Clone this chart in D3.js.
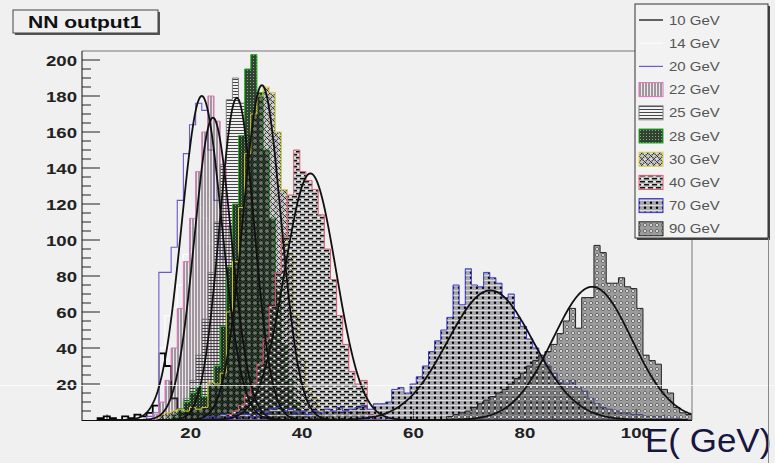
<!DOCTYPE html>
<html><head><meta charset="utf-8">
<script src="https://cdn.jsdelivr.net/npm/d3@7/dist/d3.min.js"></script>
<style>body{margin:0;background:#f0f0f0;}svg{display:block;}</style>
</head><body>
<svg id="chart" width="775" height="463"></svg>
<script>
// ---------------- data ----------------
const titleText = "NN output1";
const xAxisTitle = "E( GeV)";
const binWidth = 1.1;                 // GeV per bin, bins start at 0
const xDomain = [0.5, 110];
const yDomain = [0, 205];
const xTickValues = [20, 40, 60, 80, 100];
const yTickValues = [20, 40, 60, 80, 100, 120, 140, 160, 180, 200];
const legendLabels = ["10 GeV", "14 GeV", "20 GeV", "22 GeV", "25 GeV", "28 GeV", "30 GeV", "40 GeV", "70 GeV", "90 GeV"];

// first bin index of each histogram, then bin contents
const h10Start = 3;
const h10Counts = [1, 2, 1, 0, 2, 1, 3, 2, 4, 8, 37, 30, 12, 6, 4, 3, 2, 1];
const h14Start = 12;
const h14Counts = [3, 40, 58, 62, 75, 92, 108, 118, 112, 98, 78, 55, 34, 20, 10, 4, 1];
const h20Start = 11;
const h20Counts = [2, 4, 82, 82, 96, 122, 148, 164, 176, 172, 150, 122, 90, 58, 34, 17, 7, 3];
const h22Start = 12;
const h22Counts = [3, 10, 22, 40, 62, 88, 112, 138, 160, 180, 166, 140, 108, 76, 48, 26, 12, 5, 2];
const h25Start = 15;
const h25Counts = [3, 6, 12, 22, 36, 56, 82, 110, 142, 178, 190, 176, 158, 128, 96, 64, 38, 20, 9, 4, 1];
const h28Start = 15;
const h28Counts = [2, 5, 10, 15, 18, 13, 19, 30, 52, 85, 120, 158, 195, 203, 182, 150, 112, 72, 42, 22, 10, 4, 1];
const h30Start = 13;
const h30Counts = [3, 4, 5, 6, 5, 7, 6, 7, 21, 20, 26, 60, 88, 118, 148, 170, 180, 185, 182, 160, 128, 92, 58, 34, 17, 12, 5, 2];
const h40Start = 24;
const h40Counts = [3, 5, 8, 14, 20, 31, 45, 63, 82, 102, 125, 150, 138, 133, 128, 114, 95, 78, 58, 42, 27, 20, 22, 3, 1];
const h70Start = 20;
const h70Counts = [1, 2, 1, 3, 2, 2, 4, 3, 2, 5, 4, 6, 7, 5, 6, 4, 5, 3, 5, 4, 6, 5, 7, 5, 6, 7, 8, 6, 9, 9,
  10, 17, 18, 15, 20, 24, 30, 38, 44, 50, 57, 75, 64, 84, 75, 74, 82, 79, 76, 68, 70, 57, 52, 45, 40, 35, 30, 26,
  22, 20, 22, 18, 16, 12, 9, 7, 6, 5, 4, 4, 3, 3, 2, 2, 2, 1, 1, 1];
const h90Start = 60;
const h90Counts = [2, 3, 4, 5, 7, 9, 11, 13, 15, 17, 20, 23, 26, 30, 33, 36, 38, 42, 48, 55, 62, 51, 68, 68, 97, 93,
  76, 76, 79, 74, 73, 62, 36, 33, 31, 17, 15, 7, 4, 3];

// gaussian fit parameters
const fitMeans  = [22.0, 24.0, 28.3, 32.8, 41.5, 73.8, 92.1];
const fitAmps   = [180, 168, 179, 186, 137, 72, 74];
const fitSigmas = [3.6, 3.3, 3.1, 3.4, 4.6, 7.7, 7.1];

// ---------------- drawing ----------------
const svg = d3.select("#chart");
const W = 775, H = 463;
const plot = {left: 82, right: 692, top: 51, bottom: 420};
const x = d3.scaleLinear().domain(xDomain).range([plot.left, plot.right]);
const y = d3.scaleLinear().domain(yDomain).range([plot.bottom, plot.top]);

svg.append("rect").attr("width", W).attr("height", H).attr("fill", "#f0f0f0");

const defs = svg.append("defs");
defs.append("clipPath").attr("id", "clip").append("rect")
  .attr("x", plot.left).attr("y", plot.top).attr("width", plot.right - plot.left).attr("height", plot.bottom - plot.top);

function pat(id, w, h) {
  return defs.append("pattern").attr("id", id).attr("patternUnits", "userSpaceOnUse").attr("width", w).attr("height", h);
}
// 22 GeV vertical hatch
let p = pat("p22", 3, 3);
p.append("rect").attr("width", 3).attr("height", 3).attr("fill", "rgba(235,150,215,0.14)");
p.append("line").attr("x1", 1).attr("x2", 1).attr("y1", 0).attr("y2", 3).attr("stroke", "#222").attr("stroke-width", 0.8);
// 25 GeV horizontal lines
p = pat("p25", 4, 3);
p.append("line").attr("x1", 0).attr("x2", 4).attr("y1", 1.5).attr("y2", 1.5).attr("stroke", "#333").attr("stroke-width", 0.9);
// 28 GeV dense dark
p = pat("p28", 3, 3);
p.append("rect").attr("width", 3).attr("height", 3).attr("fill", "rgba(12,38,12,0.85)");
p.append("rect").attr("x", 1).attr("y", 1).attr("width", 1).attr("height", 1).attr("fill", "rgba(255,255,255,0.5)");
// 30 GeV dotted diamonds
p = pat("p30", 6, 6);
p.append("rect").attr("width", 6).attr("height", 6).attr("fill", "rgba(0,0,0,0.18)");
p.append("path").attr("d", "M3,0L6,3L3,6L0,3Z").attr("fill", "rgba(255,255,255,0.3)").attr("stroke", "#000").attr("stroke-width", 1.1).attr("stroke-dasharray", "1.1,1");
// 40 GeV bricks
p = pat("p40", 8, 6);
p.append("rect").attr("width", 8).attr("height", 6).attr("fill", "rgba(90,90,90,0.35)");
p.append("rect").attr("x", 0).attr("y", 1).attr("width", 5).attr("height", 1.4).attr("fill", "#111");
p.append("rect").attr("x", 5.5).attr("y", 1).attr("width", 2).attr("height", 1.4).attr("fill", "#fff");
p.append("rect").attr("x", 4).attr("y", 4).attr("width", 4).attr("height", 1.4).attr("fill", "#111");
p.append("rect").attr("x", 0).attr("y", 4).attr("width", 1).attr("height", 1.4).attr("fill", "#111");
p.append("rect").attr("x", 1.5).attr("y", 4).attr("width", 2).attr("height", 1.4).attr("fill", "#fff");
// 70 GeV dots
p = pat("p70", 6, 5);
p.append("rect").attr("width", 6).attr("height", 5).attr("fill", "rgba(80,80,90,0.45)");
p.append("line").attr("x1", 0).attr("x2", 6).attr("y1", 0.4).attr("y2", 0.4).attr("stroke", "rgba(255,255,255,0.85)").attr("stroke-width", 0.8);
p.append("circle").attr("cx", 3).attr("cy", 2.8).attr("r", 1.2).attr("fill", "#000");
// 90 GeV circles
p = pat("p90", 6, 6);
p.append("rect").attr("width", 6).attr("height", 6).attr("fill", "rgba(70,70,70,0.5)");
p.append("circle").attr("cx", 3).attr("cy", 3).attr("r", 1.5).attr("fill", "#fff").attr("stroke", "#222").attr("stroke-width", 0.6);

const hists = [
  {start: h10Start, counts: h10Counts, stroke: "#000", fill: "none", sw: 1.8},
  {start: h14Start, counts: h14Counts, stroke: "#ffffff", fill: "none", sw: 1.2},
  {start: h20Start, counts: h20Counts, stroke: "#6a5acd", fill: "none", sw: 1.1},
  {start: h22Start, counts: h22Counts, stroke: "#e070c0", fill: "url(#p22)", sw: 1},
  {start: h25Start, counts: h25Counts, stroke: "#808080", fill: "url(#p25)", sw: 1},
  {start: h28Start, counts: h28Counts, stroke: "#20b020", fill: "url(#p28)", sw: 1},
  {start: h30Start, counts: h30Counts, stroke: "#d8d030", fill: "url(#p30)", sw: 1},
  {start: h40Start, counts: h40Counts, stroke: "#e05a70", fill: "url(#p40)", sw: 1},
  {start: h70Start, counts: h70Counts, stroke: "#3a3ad0", fill: "url(#p70)", sw: 1},
  {start: h90Start, counts: h90Counts, stroke: "#222", fill: "url(#p90)", sw: 1}
];

// axes ticks (under the histograms, like ROOT's "same" overlays)
const axes = svg.append("g");
d3.range(5, 205, 5).forEach(v => {
  const major = v % 20 === 0;
  axes.append("line").attr("x1", plot.left).attr("x2", plot.left + (major ? 18 : 9))
    .attr("y1", y(v)).attr("y2", y(v)).attr("stroke", "#222").attr("stroke-width", 1);
});
d3.range(5, 110, 5).forEach(v => {
  const major = v % 20 === 0;
  axes.append("line").attr("x1", x(v)).attr("x2", x(v))
    .attr("y1", plot.bottom).attr("y2", plot.bottom - (major ? 11 : 5.5)).attr("stroke", "#222").attr("stroke-width", 1);
});

const gH = svg.append("g").attr("clip-path", "url(#clip)");
const area = d3.area().x(d => x(d.x)).y0(y(0)).y1(d => y(d.v)).curve(d3.curveStepAfter);
hists.forEach(h => {
  const pts = h.counts.map((v, i) => ({x: (h.start + i) * binWidth, v}));
  pts.push({x: (h.start + h.counts.length) * binWidth, v: h.counts[h.counts.length - 1]});
  gH.append("path").datum(pts).attr("d", area)
    .attr("fill", h.fill).attr("stroke", h.stroke).attr("stroke-width", h.sw);
});

// fits
const line = d3.line().x(d => x(d[0])).y(d => y(d[1]));
fitMeans.forEach((m, i) => {
  const s = fitSigmas[i], a = fitAmps[i];
  const lo = Math.max(xDomain[0], m - 4.6 * s), hi = Math.min(xDomain[1], m + 4.6 * s);
  const pts = d3.range(0, 201).map(t => {
    const xv = lo + (hi - lo) * t / 200;
    return [xv, a * Math.exp(-0.5 * ((xv - m) / s) ** 2)];
  });
  gH.append("path").datum(pts).attr("d", line).attr("fill", "none")
    .attr("stroke", "#111").attr("stroke-width", 1.8);
});

// frame
svg.append("line").attr("x1", plot.left).attr("x2", plot.right).attr("y1", plot.top).attr("y2", plot.top).attr("stroke", "#777");
svg.append("line").attr("x1", plot.right).attr("x2", plot.right).attr("y1", plot.top).attr("y2", plot.bottom).attr("stroke", "#777");
svg.append("line").attr("x1", plot.left).attr("x2", plot.left).attr("y1", plot.top).attr("y2", plot.bottom + 1).attr("stroke", "#111");
svg.append("line").attr("x1", plot.left).attr("x2", plot.right).attr("y1", plot.bottom + 0.5).attr("y2", plot.bottom + 0.5).attr("stroke", "#111");

function stretched(g, txt, tx, ty, opts) {
  return g.append("text").attr("transform", `translate(${tx},${ty}) scale(${opts.sx},1)`)
    .attr("text-anchor", opts.anchor)
    .attr("font-family", "Liberation Sans, Arial, sans-serif").attr("font-size", opts.size)
    .attr("font-weight", opts.weight || "normal").attr("fill", opts.fill).text(txt);
}
yTickValues.forEach(v => stretched(svg, v, 77, y(v) + 5.5, {sx: 1.2, anchor: "end", size: 15.5, weight: "bold", fill: "#222"}));
xTickValues.forEach(v => stretched(svg, v, x(v), 438, {sx: 1.2, anchor: "middle", size: 15.5, weight: "bold", fill: "#222"}));

// x axis title (drawn over the "100" label as in the reference)
stretched(svg, xAxisTitle, 645, 452, {sx: 1.06, anchor: "start", size: 33, fill: "#16163e"});

// scan artefact line
svg.append("line").attr("x1", 0).attr("x2", W).attr("y1", 385.5).attr("y2", 385.5).attr("stroke", "#fff").attr("stroke-opacity", 0.75);

// title box
svg.append("rect").attr("x", 15).attr("y", 12).attr("width", 145).attr("height", 23).attr("fill", "#555");
svg.append("rect").attr("x", 13).attr("y", 10).attr("width", 145).attr("height", 23).attr("fill", "#f0f0f0").attr("stroke", "#444");
stretched(svg, titleText, 28, 28, {sx: 1.24, anchor: "start", size: 17, weight: "bold", fill: "#111"});

// legend
const lg = svg.append("g");
lg.append("rect").attr("x", 637).attr("y", 6).attr("width", 133).attr("height", 234).attr("fill", "#444");
lg.append("rect").attr("x", 635).attr("y", 4).attr("width", 133).attr("height", 234).attr("fill", "#f2f2f2").attr("stroke", "#333");
legendLabels.forEach((lab, i) => {
  const ry = 20 + i * 23.2;
  const h = hists[i];
  if (h.fill === "none") {
    lg.append("line").attr("x1", 639).attr("x2", 663).attr("y1", ry).attr("y2", ry)
      .attr("stroke", h.stroke === "#ffffff" ? "#fcfcfc" : h.stroke).attr("stroke-width", 1.2);
  } else {
    lg.append("rect").attr("x", 639).attr("y", ry - 7).attr("width", 24).attr("height", 14)
      .attr("fill", h.fill).attr("stroke", h.stroke).attr("stroke-width", 1);
  }
  stretched(lg, lab, 669, ry + 4.5, {sx: 1.2, anchor: "start", size: 12.5, fill: "#555"});
});

// right canvas border
svg.append("line").attr("x1", 768.5).attr("x2", 768.5).attr("y1", 238).attr("y2", H).attr("stroke", "#888");
</script>
</body></html>
